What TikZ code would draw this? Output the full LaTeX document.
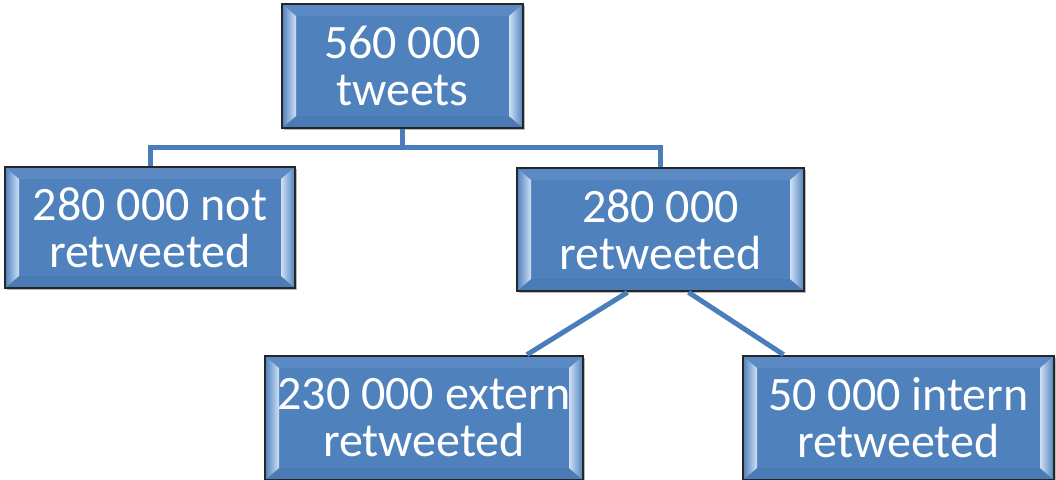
\documentclass[tikz,border=0pt]{standalone}
\usepackage{fontspec}
\setmainfont{Carlito}
\usetikzlibrary{calc,shadows}
\definecolor{boxblue}{HTML}{4F81BD}
\definecolor{bevtopc}{HTML}{5A89C3}
\definecolor{bevbotc}{HTML}{4A7BB6}
\definecolor{hilite}{HTML}{CFE0F4}
\definecolor{connc}{HTML}{4A7EBB}
\tikzset{
  x=1pt, y=1pt,
  bevelbox/.style n args={2}{
    draw=black!85, line width=1.3pt, fill=boxblue, text=white,
    minimum width=#1, minimum height=#2, inner sep=0pt,
    align=center, font=\fontsize{48}{47}\selectfont,
    drop shadow={shadow xshift=2pt, shadow yshift=-2pt, opacity=0.45, fill=black!60},
    path picture={
      \coordinate (psw) at (path picture bounding box.south west);
      \coordinate (pne) at (path picture bounding box.north east);
      \coordinate (pnw) at (psw|-pne);
      \coordinate (pse) at (pne|-psw);
      \fill[bevtopc] (pnw) -- (pne) -- ($(pne)+(-14,-12)$) -- ($(pnw)+(14,-12)$) -- cycle;
      \fill[bevbotc] (psw) -- (pse) -- ($(pse)+(-14,12)$) -- ($(psw)+(14,12)$) -- cycle;
      \shade[left color=boxblue, middle color=boxblue!55!hilite, right color=hilite] (psw) -- (pnw) -- ($(pnw)+(14,-12)$) -- ($(psw)+(14,12)$) -- cycle;
      \shade[left color=hilite, middle color=boxblue!55!hilite, right color=boxblue] (pse) -- (pne) -- ($(pne)+(-14,-12)$) -- ($(pse)+(-14,12)$) -- cycle;
    }
  },
  conn/.style={draw=connc, line width=5pt}
}
\begin{document}
\begin{tikzpicture}
\useasboundingbox (0,0) rectangle (1056,479);
\node[bevelbox={241pt}{124pt}] (top) at (402.5,413) {560 000\\tweets};
\node[bevelbox={290pt}{121pt}] (left) at (150,251.5) {280 000 not\\retweeted};
\node[bevelbox={287pt}{123pt}] (mid) at (660.5,249.5) {280 000\\retweeted};
\node[bevelbox={318pt}{124pt}] (bl) at (424,61) {230 000 extern\\retweeted};
\node[bevelbox={311pt}{124pt}] (br) at (898.5,61) {50 000 intern\\retweeted};
\draw[conn] ([yshift=-0.7pt]top.south) -- ++(0,-18.3) coordinate (hub);
\draw[conn] (hub) -| ([yshift=0.7pt]left.north);
\draw[conn] (hub) -| ([yshift=0.7pt]mid.north);
\draw[conn] ($(mid.south)+(-33,-0.7)$) -- ($(bl.north)+(103,0.7)$);
\draw[conn] ($(mid.south)+(28,-0.7)$) -- ($(br.north)+(-115,0.7)$);
\end{tikzpicture}
\end{document}
